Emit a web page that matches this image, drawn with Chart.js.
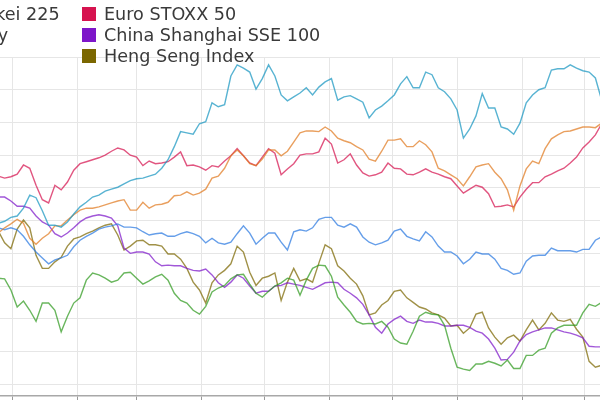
<!DOCTYPE html>
<html>
<head>
<meta charset="utf-8">
<script src="https://cdn.jsdelivr.net/npm/chart.js@4.4.1/dist/chart.umd.min.js"></script>
<style>
  html, body { margin: 0; padding: 0; background: #fff; overflow: hidden; }
  #page { position: relative; width: 600px; height: 400px; overflow: hidden; }
  #wrap { position: absolute; left: -80px; top: 0; width: 700px; height: 436px; }
  #legend { position: absolute; top: 3.5px; left: 0; font: 17.6px "DejaVu Sans", sans-serif; color: #3a3a3a; }
  .col { position: absolute; top: 0; }
  .col0 { left: -270px; }
  .col1 { left: -55px; }
  .col2 { left: 82px; }
  .item { display: flex; align-items: center; height: 21px; white-space: nowrap; }
  .box { width: 14px; height: 14px; margin-right: 8px; flex: none; }
</style>
</head>
<body>
<div id="page">
  <div id="wrap"><canvas id="chart" width="700" height="436"></canvas></div>
  <div id="legend"></div>
</div>
<script>
// days since 1 Jan, one sample every 3 days
const days = [-7, -4, -1, 2, 5, 8, 11, 14, 17, 20, 23, 26, 29, 32, 35, 38, 41, 44, 47, 50,
  53, 56, 59, 62, 65, 68, 71, 74, 77, 80, 83, 86, 89, 92, 95, 98, 101, 104, 107, 110,
  113, 116, 119, 122, 125, 128, 131, 134, 137, 140, 143, 146, 149, 152, 155, 158, 161, 164, 167, 170,
  173, 176, 179, 182, 185, 188, 191, 194, 197, 200, 203, 206, 209, 212, 215, 218, 221, 224, 227, 230,
  233, 236, 239, 242, 245, 248, 251, 254, 257, 260, 263, 266, 269, 272, 275, 278, 281];

const monthStarts = [0, 31, 59, 90, 120, 151, 181, 212, 243, 273];
const monthLabels = ['Jan', 'Feb', 'Mar', 'Apr', 'May', 'Jun', 'Jul', 'Aug', 'Sep', 'Oct'];
const yTicks = [-20, -15, -10, -5, 0, 5, 10, 15, 20, 25, 30];

// % change
const nasdaq = [4.6, 4.9, 5.5, 5.7, 6.9, 8.9, 8.5, 6.5, 4.3, 4.3,
  4.0, 4.8, 6.0, 7.1, 7.8, 8.6, 8.9, 9.5, 9.8, 10.1,
  10.6, 11.1, 11.4, 11.5, 11.8, 12.1, 13.0, 14.3, 16.3, 18.6,
  18.4, 18.2, 19.8, 20.1, 23.0, 22.4, 22.7, 27.1, 28.8, 28.3,
  27.7, 25.1, 26.7, 28.8, 27.1, 24.2, 23.3, 23.9, 24.5, 25.3,
  24.2, 25.4, 26.2, 26.7, 23.4, 23.9, 24.1, 23.6, 23.1, 20.7,
  21.9, 22.5, 23.3, 24.2, 25.9, 27.0, 25.3, 25.3, 27.7, 27.3,
  25.3, 24.7, 23.6, 21.9, 17.6, 19.0, 21.0, 24.4, 22.2, 22.2,
  19.3, 19.0, 18.2, 19.9, 23.0, 24.2, 25.0, 25.3, 28.0, 28.2,
  28.2, 28.8, 28.3, 27.9, 27.7, 26.8, 23.4];

const sp500 = [3.1, 3.9, 4.5, 5.2, 4.6, 2.3, 1.4, 2.3, 3.0, 4.2,
  4.2, 5.1, 5.9, 6.6, 6.9, 6.9, 7.1, 7.4, 7.7, 8.0,
  8.2, 6.6, 6.6, 7.8, 6.9, 7.4, 7.5, 7.8, 8.8, 8.9,
  9.4, 8.9, 9.2, 9.8, 11.5, 11.8, 13.0, 14.9, 15.8, 14.9,
  13.7, 13.4, 14.4, 15.8, 15.8, 14.9, 15.6, 17.0, 18.4, 18.7,
  18.7, 18.6, 19.3, 18.7, 17.6, 17.2, 16.9, 16.3, 15.8, 14.4,
  14.1, 15.6, 17.3, 17.3, 17.5, 16.3, 16.3, 17.2, 16.6, 15.5,
  13.0, 12.6, 12.0, 11.4, 10.3, 11.7, 13.2, 13.5, 13.7, 12.4,
  11.4, 9.7, 6.6, 10.3, 12.9, 14.1, 13.7, 16.0, 17.5, 18.1,
  18.6, 18.7, 19.0, 19.3, 19.3, 19.2, 19.9];

const nikkei = [3.9, 3.6, 3.9, 3.6, 2.6, 1.3, 0.2, -0.7, -1.6, -1.0,
  -0.7, -0.3, 1.0, 2.0, 2.6, 3.1, 3.7, 4.0, 4.2, 4.5,
  4.0, 4.0, 3.9, 3.3, 2.8, 3.0, 3.1, 2.6, 2.6, 3.0,
  3.3, 3.0, 2.6, 1.6, 2.3, 1.6, 1.4, 1.7, 3.0, 4.2,
  3.1, 1.4, 2.3, 3.1, 3.1, 1.7, 0.5, 3.3, 3.6, 3.4,
  3.9, 5.2, 5.5, 5.5, 4.3, 4.0, 4.5, 4.0, 2.5, 1.7,
  1.3, 1.6, 2.0, 3.4, 3.7, 2.6, 2.2, 1.9, 3.3, 2.5,
  1.1, 0.2, 0.2, -0.4, -1.6, -0.9, 0.2, -0.1, -0.1, -0.9,
  -2.3, -2.6, -3.2, -3.0, -1.2, -0.4, -0.3, -0.3, 0.8, 0.4,
  0.4, 0.4, 0.2, 0.6, 0.6, 2.0, 2.5];

const nifty = [-3.8, -3.9, -5.6, -8.2, -7.3, -8.7, -10.4, -7.6, -7.6, -8.7,
  -12.0, -9.6, -7.6, -6.8, -4.1, -3.0, -3.3, -3.8, -4.4, -4.1,
  -3.0, -2.9, -3.8, -4.7, -4.2, -3.6, -3.2, -4.1, -6.1, -7.2,
  -7.6, -8.7, -9.3, -8.1, -5.9, -5.3, -4.9, -3.9, -3.3, -3.2,
  -4.7, -6.1, -6.7, -5.8, -5.0, -4.5, -3.8, -4.1, -6.4, -4.1,
  -2.3, -1.8, -1.9, -3.5, -6.7, -7.9, -9.0, -10.4, -10.8, -10.7,
  -10.8, -10.4, -11.3, -13.1, -13.7, -13.9, -11.9, -9.6, -9.0, -9.3,
  -9.4, -11.0, -14.5, -17.4, -17.7, -17.9, -16.9, -16.9, -16.5, -16.8,
  -17.2, -16.3, -17.6, -17.6, -15.6, -15.6, -14.8, -14.5, -12.2, -11.4,
  -11.0, -11.0, -11.0, -9.1, -7.8, -8.1, -7.5];

const euroStoxx = [11.8, 11.5, 11.7, 12.1, 13.5, 13.0, 10.4, 8.2, 7.7, 10.4,
  9.7, 10.9, 12.7, 13.7, 14.0, 14.3, 14.6, 15.0, 15.6, 16.1,
  15.8, 15.0, 14.7, 13.4, 14.1, 13.7, 13.8, 14.0, 14.7, 15.5,
  13.4, 13.5, 13.2, 12.7, 13.4, 13.2, 14.1, 14.9, 16.0, 14.9,
  13.8, 13.4, 14.7, 16.0, 15.3, 12.0, 12.9, 13.7, 15.0, 15.2,
  15.2, 15.5, 17.6, 16.7, 13.8, 14.3, 15.2, 13.5, 12.3, 11.8,
  12.0, 12.4, 13.8, 13.0, 12.9, 12.1, 12.0, 12.4, 12.9, 12.4,
  12.1, 11.7, 11.4, 10.3, 9.2, 9.8, 10.4, 10.1, 9.1, 7.1,
  7.2, 7.4, 7.1, 8.6, 9.8, 10.8, 10.8, 11.7, 12.1, 12.6,
  13.0, 13.8, 14.7, 16.1, 17.0, 18.1, 19.8];

const shanghai = [8.6, 8.6, 8.0, 7.2, 7.2, 6.9, 5.7, 4.8, 4.3, 3.0,
  2.5, 3.1, 3.9, 4.8, 5.4, 5.7, 5.9, 5.7, 5.4, 4.2,
  0.8, 0.0, 0.2, 0.2, -0.1, -1.3, -1.9, -1.8, -1.9, -1.9,
  -2.3, -2.6, -2.7, -2.4, -3.3, -4.5, -5.2, -4.4, -3.3, -3.8,
  -5.0, -6.1, -5.8, -5.8, -5.0, -4.9, -4.5, -4.7, -4.9, -5.2,
  -5.5, -5.0, -4.5, -4.4, -4.5, -5.5, -6.1, -6.8, -7.8, -9.4,
  -11.3, -12.2, -10.8, -10.1, -9.6, -10.4, -10.7, -10.2, -10.5, -10.5,
  -10.7, -11.1, -11.1, -11.0, -11.0, -11.3, -11.9, -12.2, -13.1, -14.5,
  -16.3, -16.2, -15.1, -13.4, -12.4, -12.0, -11.7, -11.4, -11.4, -11.7,
  -12.0, -12.2, -12.5, -12.9, -14.2, -14.3, -14.3];

const hengSeng = [3.4, 1.6, 0.7, 3.7, 5.1, 3.9, -0.3, -2.3, -2.3, -1.3,
  -0.6, 1.1, 2.2, 2.5, 3.0, 3.4, 3.9, 4.3, 4.5, 2.8,
  0.5, 1.1, 1.9, 2.0, 1.3, 1.3, 1.1, -0.1, -0.1, -0.9,
  -2.3, -4.4, -5.6, -7.6, -4.5, -3.3, -2.6, -1.6, 1.1, 0.2,
  -2.9, -4.9, -3.8, -3.5, -3.0, -7.2, -4.4, -2.3, -4.2, -3.9,
  -4.4, -1.5, 1.3, 0.7, -1.9, -2.7, -3.8, -4.7, -6.5, -9.4,
  -9.1, -7.9, -7.2, -5.8, -5.6, -6.8, -7.5, -8.2, -8.5, -9.1,
  -9.4, -9.9, -11.1, -11.0, -12.2, -11.4, -9.3, -9.0, -11.4, -12.8,
  -13.9, -12.9, -12.5, -13.4, -11.7, -10.2, -11.7, -10.7, -9.1, -10.2,
  -10.4, -10.1, -11.6, -12.8, -16.5, -17.4, -17.1];

const seriesNames = ['Nasdaq 100', 'S&P 500', 'Nikkei 225', 'Nifty', 'Euro STOXX 50', 'China Shanghai SSE 100', 'Heng Seng Index'];
const seriesData = [nasdaq, sp500, nikkei, nifty, euroStoxx, shanghai, hengSeng];
const seriesColors = ['#1795c0', '#e07a20', '#2a78e0', '#2f9a1f', '#d6134f', '#7d16c9', '#7b6700'];
const legendColumns = [[0, 1], [2, 3], [4, 5, 6]];

function fade(hex, a) {
  const n = parseInt(hex.slice(1), 16);
  return `rgba(${n >> 16}, ${(n >> 8) & 255}, ${n & 255}, ${a})`;
}

const datasets = seriesData.map((vals, i) => ({
  label: seriesNames[i],
  data: days.map((d, j) => ({ x: d, y: vals[j] })),
  borderColor: fade(seriesColors[i], 0.72),
  backgroundColor: seriesColors[i],
  borderWidth: 1.4,
  pointRadius: 0,
  tension: 0,
  fill: false
}));

new Chart(document.getElementById('chart'), {
  type: 'line',
  data: { datasets },
  options: {
    responsive: false,
    animation: false,
    layout: { padding: { top: 57, left: 0, right: 0, bottom: 0 } },
    plugins: {
      legend: { display: false },
      tooltip: { enabled: false }
    },
    scales: {
      x: {
        type: 'linear',
        min: -15.75,
        max: 289.75,
        afterBuildTicks: (scale) => { scale.ticks = monthStarts.map(v => ({ value: v })); },
        afterFit: (scale) => { scale.height = 40; },
        ticks: {
          autoSkip: false,
          maxRotation: 0,
          color: '#666',
          callback: (v) => monthLabels[monthStarts.indexOf(v)]
        },
        grid: { color: '#e6e6e6', tickColor: '#9a9a9a', tickLength: 6 },
        border: { color: '#a8a8a8', width: 1.5 }
      },
      y: {
        min: -21.8,
        max: 30,
        afterBuildTicks: (scale) => { scale.ticks = yTicks.map(v => ({ value: v })); },
        afterFit: (scale) => { scale.width = 60; },
        ticks: { color: '#666', callback: (v) => v + '%' },
        grid: { color: '#e6e6e6' },
        border: { display: false }
      }
    }
  }
});

const legend = document.getElementById('legend');
legendColumns.forEach((col, c) => {
  const div = document.createElement('div');
  div.className = 'col col' + c;
  col.forEach(i => {
    div.insertAdjacentHTML('beforeend',
      `<div class="item"><span class="box" style="background:${seriesColors[i]}"></span>${seriesNames[i]}</div>`);
  });
  legend.appendChild(div);
});
</script>
</body>
</html>
